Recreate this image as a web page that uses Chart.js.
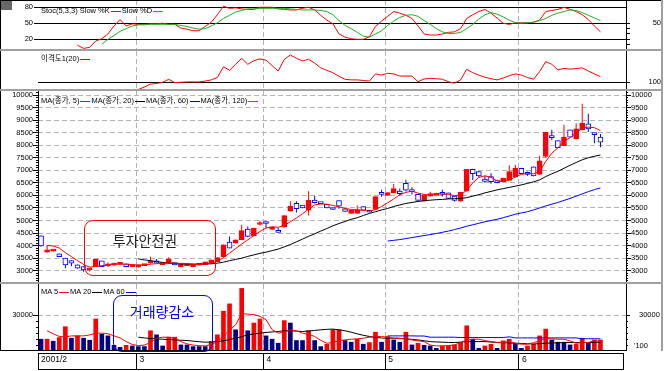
<!DOCTYPE html>
<html><head><meta charset="utf-8">
<script src="https://cdn.jsdelivr.net/npm/chart.js@4.4.0/dist/chart.umd.min.js"></script>
<style>
html,body{margin:0;padding:0;background:#fff;}
#wrap{position:relative;width:666px;height:371px;overflow:hidden;background:#fff;}
#wrap canvas{position:absolute;left:0;}
.fr{position:absolute;}
.lg{position:absolute;font-family:"Liberation Sans",Arial,"Noto Sans CJK KR",sans-serif;font-size:7.5px;line-height:9px;color:#000;white-space:nowrap;}
.lg i{display:inline-block;width:10px;height:0;border-top:1px solid;vertical-align:middle;margin:0 1px;}
.box{position:absolute;border:1px solid;border-radius:9px;box-sizing:border-box;}
.ann{position:absolute;font-family:"Noto Sans CJK KR",sans-serif;font-size:14px;line-height:16px;white-space:nowrap;transform:translate(-50%,-50%);}
.icon{position:absolute;left:1px;top:1px;width:11px;height:9px;background-color:#d0d0d0;
  background-image:radial-gradient(#606060 0.7px, transparent 0.8px);background-size:2px 2px;}
</style></head><body>
<div id="wrap">
 <canvas id="cStoch" width="666" height="50" style="top:0px;width:666px;height:50px"></canvas>
 <canvas id="cDisp" width="666" height="38" style="top:51px;width:666px;height:38px"></canvas>
 <canvas id="cPrice" width="666" height="191" style="top:91px;width:666px;height:191px"></canvas>
 <canvas id="cVol" width="666" height="67" style="top:284px;width:666px;height:67px"></canvas>
 <canvas id="cDate" width="666" height="20" style="top:351px;width:666px;height:20px"></canvas>

 <div class="fr" style="left:0;top:0;width:661px;height:1px;background:#000"></div>
 <div class="fr" style="left:0;top:0;width:1px;height:351px;background:#000"></div>
 <div class="fr" style="left:661px;top:0;width:2px;height:351px;background:#a0a0a0"></div>
 <div class="fr" style="left:0;top:49px;width:663px;height:2px;background:#a0a0a0"></div>
 <div class="fr" style="left:0;top:89px;width:663px;height:2px;background:#a0a0a0"></div>
 <div class="fr" style="left:0;top:282px;width:663px;height:2px;background:#a0a0a0"></div>
 <div class="fr" style="left:0;top:350px;width:626px;height:1px;background:#000"></div>
 <div class="fr" style="left:38px;top:353px;width:586px;height:17px;border:1px solid #000;box-sizing:border-box"></div>
 <div class="icon"></div>

 <div class="lg" style="left:41px;top:6px">Stoc(5,3,3) Slow %K<i style="color:#ff0000"></i>Slow %D<i style="color:#20b020"></i></div>
 <div class="lg" style="left:41px;top:54px">이격도1(20)<i style="color:#ff0000"></i></div>
 <div class="lg" style="left:41px;top:96px">MA(종가, 5)<i style="color:#ff0000"></i>MA(종가, 20)<i style="color:#000"></i>MA(종가, 60)<i style="color:#0000ff"></i>MA(종가, 120)<i style="color:#ff00ff"></i></div>
 <div class="lg" style="left:41px;top:287px">MA 5<i style="color:#ff0000"></i>MA 20<i style="color:#000"></i>MA 60<i style="color:#0000ff"></i></div>
 <div class="lg" style="left:634px;top:341px">'100</div>

 <div class="box" style="left:84px;top:220px;width:132px;height:56px;border-color:#ff0000"></div>
 <div class="ann" style="left:145px;top:240px;color:#222">투자안전권</div>
 <div class="box" style="left:113px;top:295px;width:100px;height:57px;border-color:#0000ff"></div>
 <div class="ann" style="left:162px;top:311px;color:#0000ff">거래량감소</div>
</div>
<script>
// ---------------- data ----------------
const monthBoundaries = [15.7, 36.6, 56.6, 78.6];
const dateTickValues = [-0.5, 15.7, 36.6, 56.6, 78.6, 95.8];
const dateTickLabels = ['2001/2', '3', '4', '5', '6', ''];
const priceTicks = [3000,3500,4000,4500,5000,5500,6000,6500,7000,7500,8000,8500,9000,9500,10000];
const stochLines = [20, 50, 80];
const stochRightTicks = [10, 20, 30, 40, 50];
const dispTicks = [100];
const volTicks = [30000];

const openP = [4390,3740,3780,3670,3500,3400,3230,3160,3030,3160, 3390,3190,3220,3250,3270,3160,3140,3200,3300,3390, 3240,3300,3320,3160,3200,3160,3220,3250,3300,3360, 3560,4140,4100,4230,4660,4390,4840,4950,4640,4560, 4730,5370,5680,5610,5410,5810,5730,5640,5500,5790, 5470,5280,5280,5550,5410,5440,6060,6000,6110,6170, 6480,6170,6040,5770,5970,6000,6060,6100,5970,5770, 6170,7040,6950,6650,6750,6580,6550,6600,6735,7080, 6890,7140,6840,7555,8340,8180,7980,8610,8250,8610, 8850,8480,8320];
const highP = [4400,4000,3850,3690,3500,3420,3250,3170,3110,3470, 3400,3330,3320,3350,3280,3240,3240,3250,3560,3470, 3300,3540,3330,3310,3280,3280,3290,3360,3440,3530, 4040,4360,4240,4830,4760,4710,5000,4960,4750,4700, 5210,5770,5770,5620,6170,5990,5740,5650,5510,5800, 5480,5420,5600,5560,5420,5960,6230,6120,6450,6280, 6620,6330,6060,6010,6150,6100,6230,6110,5980,6140, 7050,7060,6960,6780,6880,6620,6700,7200,7220,7100, 6950,7150,7580,8530,8620,8190,8820,8620,8880,9650, 9250,8490,8450];
const lowP = [3950,3720,3760,3550,3100,3180,3080,2960,2970,3150, 3150,3150,3200,3240,3150,3150,3130,3190,3290,3290, 3230,3290,3220,3150,3190,3150,3210,3240,3290,3350, 3550,3890,4090,4220,4330,4380,4800,4700,4630,4520, 4720,5360,5320,5490,5200,5680,5660,5490,5430,5470, 5350,5270,5270,5400,5320,5430,5950,5990,6100,6000, 6160,6040,5790,5760,5960,5990,5960,5870,5760,5760, 6160,6600,6700,6500,6460,6480,6540,6590,6720,6850, 6780,6760,6830,7500,8200,7880,7970,8310,8240,8600, 8530,8080,7920];
const closeP = [3990,3830,3800,3560,3230,3300,3100,3030,3100,3460, 3160,3270,3300,3300,3160,3230,3230,3230,3390,3300, 3280,3460,3230,3300,3270,3270,3280,3350,3430,3520, 4030,3900,4230,4600,4370,4700,4900,4880,4740,4530, 5200,5570,5470,5500,5800,5710,5670,5500,5440,5570, 5360,5410,5440,5410,5330,5950,6040,6110,6270,6070, 6210,6150,5800,6000,6070,6090,6040,5880,5800,6130, 7040,6870,6775,6560,6550,6510,6680,6950,7080,6870, 6840,6775,7380,8520,8300,7890,8320,8320,8650,8880, 8650,8420,8120];

const ma5 = [null, 4000,3990,3900,3720,3560,3400,3250,3140,3170, 3200,3230,3260,3270,3260,3240,3230,3230,3260,3280, 3290,3310,3300,3290,3280,3250,3250,3260,3300,3380, 3520,3700,3880,4060,4230,4400,4560,4700,4750,4730, 4800,4950,5100,5270,5450,5620,5660,5650,5600,5540, 5480,5440,5420,5400,5380,5430,5560,5700,5860,6030, 6120,6170,6090,6040,6010,6060,6060,6040,5990,6020, 6200,6500,6720,6780,6720,6580,6550,6620,6730,6840, 6870,6860,6960,7350,7680,7900,8150,8300,8480,8680, 8720,8700,8580];
const ma20 = [null,null,null,null,null,null,null,null,null,null, null,null,null,null,null,null, 3470,3430,3400,3360, 3330,3300,3290,3270,3265,3260,3260,3265,3275,3300, 3340,3400,3450,3500,3570,3630,3690,3740,3800,3860, 3950,4040,4150,4260,4370,4470,4580,4680,4790,4880, 4960,5050,5110,5200,5280,5350,5420,5480,5560,5620, 5680,5720,5760,5790,5810,5830,5840,5860,5870,5880, 5910,5970,6030,6100,6160,6220,6270,6320,6370,6420, 6480,6540,6620,6750,6860,6960,7080,7200,7310,7420, 7500,7560,7610];
const ma60 = [null,null,null,null,null,null,null,null,null,null, null,null,null,null,null,null,null,null,null,null, null,null,null,null,null,null,null,null,null,null, null,null,null,null,null,null,null,null,null,null, null,null,null,null,null,null,null,null,null,null, null,null,null,null,null,null,null, 4180,4210,4240, 4280,4320,4360,4400,4440,4480,4530,4580,4640,4700, 4770,4830,4890,4950,5000,5050,5110,5180,5250,5300, 5350,5420,5500,5580,5650,5720,5800,5880,5970,6060, 6150,6230,6300];

const stochK = [null,null,null,null,null,null, 9,3,5,17,21,30,45,57,45,49, 48,47,49,49,50,48,48,41,39,36, 36,44,52,66,82,78,79,77,76,76, 80,80,80,77,76,75,75,78,80,75, 65,56,49,30,24,21,20,20,25,44, 54,63,72,69,65,59,45,30,28,28, 30,33,34,40,59,66,72,76,69,60, 50,48,51,51,51,52,56,72,74,76, 80,76,72,66,57,45,34];
const stochD = [null,null,null,null,null,null,null,null,null,null, 11,20,27,35,40,45,47,48,48,48, 48,48,48,46,44,41,39,40,45,51, 59,65,71,74,77,77,78,78,78,78, 78,77,76,75,75,75,74,72,66,55, 46,40,33,26,24,30,36,46,54,61, 65,66,63,55,48,40,34,31,31,33, 40,48,58,66,70,67,62,56,51,50, 51,52,55,59,65,69,72,75,74,70, 65,60,55];
const disparity = [null,null,null,null,null,null,null,null,null,null, null,null,null,null,null,null, 94,96,98.5,99, 100,102.5,99.7,100,100.3,100.3,100.3,101,102,104, 113,110,115,120,115,118,119.5,118.5,114,109.4, 119,122.8,120,117.8,119.2,116,112,110,108,105, 102.5,102,102,101.5,101,107,106,107.5,107,105.2, 105.2,105.2,100.5,102.7,103.3,103,102.5,100.5,99.2,102, 110.8,108,106,104.2,103,102,103.5,105.5,107,106, 104,102.5,109,117.2,115,110.3,111.6,111,111.5,112, 109.4,107,104.7];

const volume = [9900,9900,8200,11300,20400,10750,12700,10750,9050,26900, 14150,12700,4800,3100,4800,4250,3700,3700,17000,13600, 4250,11600,11600,5100,5100,3700,3700,3700,7900,13600, 33400,39600,17800,52600,17000,23500,26900,12700,9900,6500, 25500,23500,8800,8800,17000,8800,3700,5700,17800,17800, 8800,7400,9900,5700,7100,15800,7400,12200,9300,7400, 15800,5100,6500,4800,4250,2260,4250,4250,5100,7100, 21200,9900,2260,4250,5700,2260,8500,9900,6500,2260, 4250,5700,12700,18400,9300,7400,7400,5100,5700,10750, 6500,9300,9300];
const volUp = [0,1,0,1,1,0,1,0,0,1, 0,0,0,0,1,0,0,0,1,0, 0,1,1,0,0,0,0,0,1,1, 1,1,0,1,0,1,1,0,0,0, 1,0,0,0,1,0,0,1,1,1, 0,0,1,0,1,1,0,1,0,0, 1,0,1,0,0,0,1,1,1,1, 1,0,0,1,1,0,1,1,0,0, 1,1,1,1,0,0,0,0,1,1, 0,1,1];
const volMA5 = [null, 17000,14500,12200,11800,12700,12700,12700,13500,15000, 15000,14500,12700,11000,7900,5500,4500,5000,7100,10750, 11600,11600,10750,7900,6000,5000,4500,4300,5500,7900, 12200,17800,22000,31400,31000,30600,29100,26300,18000,15000, 15800,17800,17000,15000,14000,12200,9000,6500,7100,8800, 9300,9900,10200,10750,11500,12200,12200,11500,10750,10500, 10200,9300,8500,7900,5000,4300,4250,4600,5100,7000, 9000,9900,9900,8800,7900,7300,7100,7900,6500,5700, 5700,7000,8500,10750,10200,9900,9900,8500,6500,7100, 7100,8800,7900];
const volMA20 = [null,null,null,null,null,null,null,null,null,null, null,null,null,null,null,null, 11600,11000,10500,10200, 9900,9600,9300,9000,8800,8300,7800,7400,7500,7900, 8600,9500,10750,12000,13600,14300,15000,15600,16000,16400, 17000,17000,16700,16400,16800,17300,17800,18200,18400,17800, 17000,15800,14400,13200,12200,11500,10900,10750,10750,10750, 10200,9800,9300,8600,7900,7600,7400,7200,7100,7500, 7900,7900,7900,7900,7500,7100,7000,6800,6500,6300, 6100,5900,6200,6500,6700,6900,7100,7100,7100,7100, 7200,7300,7400];
const volMA60 = [null,null,null,null,null,null,null,null,null,null, null,null,null,null,null,null,null,null,null,null, null,null,null,null,null,null,null,null,null,null, null,null,null,null,null,null,null,null,null,null, null,null,null,null,null,null,null,null,null,null, null,null,null,null,null,null,null, 12700,12700,12700, 12700,12700,12600,12600,11600,11600,11600,11600,11600,11300, 11300,11300,11300,11300,11300,11300,11300,11900,11000,11000, 11000,11000,11000,11000,11000,11000,11000,11000,11000,10300, 10300,10300,10300];

// ---------------- styling / helpers ----------------
const RED = '#ff0000', BLUE = '#0000ff', NAVY = '#000080', GREEN = '#20b020', GRID = '#b4b4b4';
const FONT_FAMILY = '"Liberation Sans",Arial,"Noto Sans CJK KR",sans-serif';
const tickFont = {family: FONT_FAMILY, size: 7.5};
const X_MIN = -0.5, X_MAX = 96.2;
const idx = openP.map((_, i) => i);
const isUp = idx.map(i => closeP[i] >= openP[i]);

function fit(w, h) {
  return s => {
    if (w != null) s.width = w;
    if (h != null) s.height = h;
    s.paddingTop = 0; s.paddingBottom = 0; s.paddingLeft = 0; s.paddingRight = 0;
  };
}
function setTicks(vals) { return s => { s.ticks = vals.map(v => ({value: v})); }; }
function range(a, b, step) { const r = []; for (let v = a; v <= b; v += step) r.push(v); return r; }

function xAxis() {
  return {
    type: 'linear', axis: 'x', position: 'bottom', min: X_MIN, max: X_MAX, offset: false,
    afterBuildTicks: setTicks(monthBoundaries),
    afterFit: fit(null, 0),
    ticks: {display: false},
    grid: {display: true, offset: false, drawOnChartArea: true, drawTicks: false, color: GRID, lineWidth: 1},
    border: {display: false, dash: [5, 3]}
  };
}
function yAxis(o) {
  return {
    type: 'linear', axis: 'y', position: o.pos, min: o.min, max: o.max, weight: o.weight || 0,
    afterBuildTicks: setTicks(o.ticks),
    afterFit: fit(o.width, null),
    ticks: {display: !!o.label, autoSkip: false, font: tickFont, color: '#000',
            padding: (o.padding != null ? o.padding : 1), crossAlign: o.crossAlign || 'near',
            callback: o.label || (() => '')},
    grid: {display: true, drawOnChartArea: !!o.gridOnArea, drawTicks: (o.tickLength || 0) > 0,
           tickLength: o.tickLength || 0, color: o.gridColor || '#000', tickColor: '#000', lineWidth: 1, tickWidth: 1},
    border: {display: !!o.border, color: '#000', width: 1, dash: o.dash || []}
  };
}
function baseOpts(scales, padRight) {
  return {
    responsive: false, maintainAspectRatio: false, animation: false, devicePixelRatio: 1, events: [],
    layout: {autoPadding: false, padding: {left: 0, right: padRight || 0, top: 0, bottom: 0}},
    plugins: {legend: {display: false}, tooltip: {enabled: false}, title: {display: false}},
    scales: scales
  };
}
const pts = arr => arr.map((v, i) => ({x: i, y: v}));
function lineDS(arr, color, order) {
  return {type: 'line', data: pts(arr), borderColor: color, borderWidth: 1, pointRadius: 0,
          tension: 0, spanGaps: false, fill: false, order: order || 0, yAxisID: 'y'};
}

// ---------------- stochastic ----------------
const S_MAX = 93.6;
new Chart(document.getElementById('cStoch'), {
  type: 'line',
  data: {datasets: [lineDS(stochK, RED, 1), lineDS(stochD, GREEN, 0)]},
  options: baseOpts({
    x: xAxis(),
    y: yAxis({pos: 'left', min: 0, max: S_MAX, ticks: stochLines, width: 38, label: v => String(v),
              tickLength: 4, gridOnArea: true, gridColor: '#000', padding: 1}),
    yr: yAxis({pos: 'right', min: 0, max: S_MAX, ticks: stochRightTicks, width: 35,
               label: v => (v === 50 ? '50' : ''), tickLength: 4, border: true, crossAlign: 'far'})
  }, 5)
});

// ---------------- disparity ----------------
new Chart(document.getElementById('cDisp'), {
  type: 'line',
  data: {datasets: [lineDS(disparity, RED, 0)]},
  options: baseOpts({
    x: xAxis(),
    y: yAxis({pos: 'left', min: 94.4, max: 126.1, ticks: dispTicks, width: 38, tickLength: 0,
              gridOnArea: true, gridColor: '#000'}),
    yr: yAxis({pos: 'right', min: 94.4, max: 126.1, ticks: dispTicks, width: 35,
               label: v => String(v), tickLength: 4, border: true, crossAlign: 'far'})
  }, 5)
});

// ---------------- price (candles + MAs) ----------------
const P_MIN = 2550, P_MAX = 10160;
const minorPrice = range(2600, 10100, 100);
new Chart(document.getElementById('cPrice'), {
  type: 'bar',
  data: {datasets: [
    {type: 'bar', data: idx.map(i => ({x: i, y: [lowP[i], highP[i]]})),
     backgroundColor: idx.map(i => isUp[i] ? RED : BLUE), borderWidth: 0, barThickness: 1,
     inflateAmount: 0, grouped: false, order: 3, yAxisID: 'y'},
    {type: 'bar', data: idx.map(i => ({x: i, y: [openP[i], closeP[i]]})),
     backgroundColor: idx.map(i => isUp[i] ? RED : '#ffffff'),
     borderColor: idx.map(i => isUp[i] ? RED : BLUE), borderWidth: 1, borderSkipped: false,
     barThickness: 5, minBarLength: 2, grouped: false, order: 2, yAxisID: 'y'},
    lineDS(ma5, RED, 1), lineDS(ma20, '#000', 1), lineDS(ma60, BLUE, 1)
  ]},
  options: baseOpts({
    x: xAxis(),
    y: yAxis({pos: 'left', min: P_MIN, max: P_MAX, ticks: priceTicks, width: 38, weight: 1,
              label: v => String(v), tickLength: 5, gridOnArea: true, gridColor: GRID, dash: [5, 3], padding: 0}),
    yl2: yAxis({pos: 'left', min: P_MIN, max: P_MAX, ticks: minorPrice, width: 0, weight: 0,
                tickLength: 2, border: true}),
    yr: yAxis({pos: 'right', min: P_MIN, max: P_MAX, ticks: priceTicks, width: 40, weight: 1,
               label: v => String(v), tickLength: 5, padding: 0}),
    yr2: yAxis({pos: 'right', min: P_MIN, max: P_MAX, ticks: minorPrice, width: 0, weight: 0,
                tickLength: 2, border: true})
  }, 0)
});

// ---------------- volume ----------------
const V_MAX = 56300;
const minorVol = range(5000, 25000, 5000);
new Chart(document.getElementById('cVol'), {
  type: 'bar',
  data: {datasets: [
    {type: 'bar', data: idx.map(i => ({x: i, y: volume[i]})),
     backgroundColor: idx.map(i => volUp[i] ? RED : NAVY), borderWidth: 0, barThickness: 4,
     grouped: false, order: 2, yAxisID: 'y'},
    lineDS(volMA5, RED, 1), lineDS(volMA20, '#000', 1), lineDS(volMA60, BLUE, 1)
  ]},
  options: baseOpts({
    x: xAxis(),
    y: yAxis({pos: 'left', min: 0, max: V_MAX, ticks: volTicks, width: 38, weight: 1,
              label: v => String(v), tickLength: 5, gridOnArea: true, gridColor: GRID, dash: [5, 3], padding: 0}),
    yl2: yAxis({pos: 'left', min: 0, max: V_MAX, ticks: minorVol, width: 0, weight: 0, tickLength: 2, border: true}),
    yr: yAxis({pos: 'right', min: 0, max: V_MAX, ticks: volTicks, width: 40, weight: 1,
               label: v => String(v), tickLength: 4, padding: 9}),
    yr2: yAxis({pos: 'right', min: 0, max: V_MAX, ticks: minorVol, width: 0, weight: 0, tickLength: 2, border: true})
  }, 0)
});

// ---------------- date row ----------------
new Chart(document.getElementById('cDate'), {
  type: 'line',
  data: {datasets: []},
  options: {
    responsive: false, maintainAspectRatio: false, animation: false, devicePixelRatio: 1, events: [],
    layout: {autoPadding: false, padding: {left: 38, right: 40, top: 0, bottom: 0}},
    plugins: {legend: {display: false}, tooltip: {enabled: false}},
    scales: {
      x: {type: 'linear', position: 'bottom', min: X_MIN, max: X_MAX, offset: false,
          afterBuildTicks: setTicks(dateTickValues), afterFit: fit(null, 18),
          ticks: {display: true, autoSkip: false, maxRotation: 0, minRotation: 0, align: 'start',
                  labelOffset: 3, padding: -14, font: {family: FONT_FAMILY, size: 8.5}, color: '#000',
                  callback: (v, i) => dateTickLabels[i]},
          grid: {display: true, offset: false, drawOnChartArea: false, drawTicks: true, tickLength: 16,
                 color: '#000', tickColor: '#000', lineWidth: 1},
          border: {display: false}},
      y: {display: false, min: 0, max: 1}
    }
  }
});
</script>
</body></html>
